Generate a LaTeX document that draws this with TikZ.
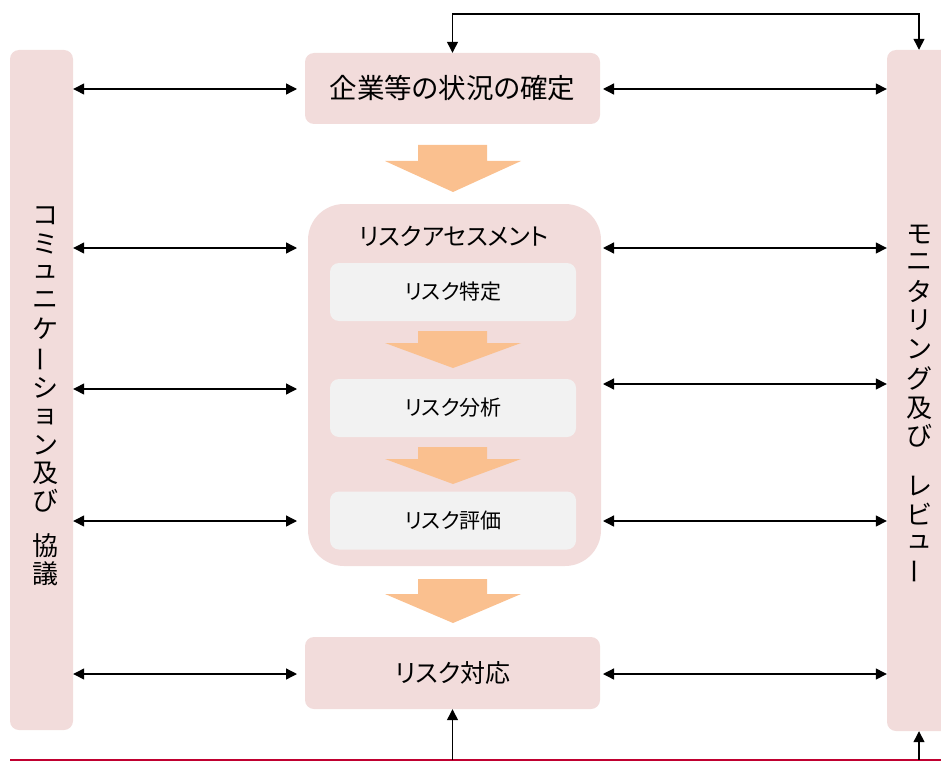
\documentclass[tikz,border=0pt]{standalone}
\usepackage{fontspec}
\usepackage{graphicx}
\setmainfont{Noto Sans CJK JP}[RawFeature=+palt]
\newfontfamily\vfont{Noto Sans CJK JP}
\usetikzlibrary{arrows.meta}
\definecolor{boxpink}{RGB}{242,220,219}
\definecolor{innergrey}{RGB}{242,242,242}
\definecolor{arroworange}{RGB}{250,192,143}
\definecolor{redline}{RGB}{192,0,48}
\tikzset{
  pinkbox/.style={fill=boxpink, draw=none, rounded corners=9pt, inner sep=0pt},
  greybox/.style={fill=innergrey, draw=none, rounded corners=9pt, inner sep=0pt,
     minimum width=246pt, minimum height=58pt, font=\fontsize{21}{24}\selectfont},
  dbl/.style={line width=1.3pt, {Triangle[length=11pt,width=11pt]}-{Triangle[length=11pt,width=11pt]}},
  uparr/.style={line width=1.3pt, -{Triangle[length=11pt,width=11pt]}},
  vtext/.style={font=\vfont\fontsize{26}{28}\selectfont, inner sep=0pt},
  orangefill/.style={fill=arroworange, draw=none}
}
\newcommand{\oarrow}[3]{%
  \fill[orangefill] (418,#1) -- (487,#1) -- (487,#2) -- (521,#2) -- (453,#3) -- (385,#2) -- (418,#2) -- cycle;}
\begin{document}
\begin{tikzpicture}[x=1pt,y=-1pt]
\useasboundingbox (0,0) rectangle (941,762);
% side boxes
\node[pinkbox, minimum width=63pt, minimum height=680pt] (lb) at (41.5,390) {};
\node[pinkbox, minimum width=64pt, minimum height=681pt] (rb) at (919,390.5) {};
% main boxes
\node[pinkbox, minimum width=295pt, minimum height=71pt, font=\fontsize{27.5}{30}\selectfont] (ctx) at (452.5,88.5) {企業等の状況の確定};
\node[pinkbox, rounded corners=36pt, minimum width=293pt, minimum height=362pt] (ra) at (454.5,385) {};
\node[inner sep=0pt, font=\fontsize{24}{27}\selectfont] (ratitle) at (454,236) {リスクアセスメント};
\node[greybox] (id) at (453,292) {リスク特定};
\node[greybox] (an) at (453,408) {リスク分析};
\node[greybox] (ev) at (453,520.5) {リスク評価};
\node[pinkbox, minimum width=295pt, minimum height=72pt, font=\fontsize{25}{28}\selectfont] (resp) at (452.5,673) {リスク対応};
% orange arrows
\oarrow{145}{161}{192}
\oarrow{331}{343}{368}
\oarrow{447}{459}{484}
\oarrow{579}{594}{623}
% vertical texts
\foreach \c/\y [count=\i] in {コ/216, ミ/244, ュ/272, ニ/300, ケ/329, {\rotatebox[origin=c]{90}{ー}}/359, シ/388, ョ/417, ン/445, 及/473, び/501, 協/546, 議/574}
  \node[vtext] (lt\i) at (45,\y) {\c};
\foreach \c/\y [count=\i] in {モ/234, ニ/262, タ/291, リ/320, ン/349, グ/378, 及/408, び/436, レ/486, ビ/514, ュ/542, {\rotatebox[origin=c]{90}{ー}}/571}
  \node[vtext] (rt\i) at (919,\y) {\c};
% horizontal double arrows
\foreach \y in {89,248,389,521,674}
  \draw[dbl] (lb.east |- 0,\y) -- (297,\y);
\foreach \y in {89,248,384,521,674}
  \draw[dbl] (603,\y) -- (rb.west |- 0,\y);
% top connector
\coordinate (topy) at (0,14);
\draw[dbl] (ctx.north) -- (ctx.north |- topy) -- (rb.north |- topy) -- (rb.north);
% bottom line
\coordinate (boty) at (0,760);
\draw[redline, line width=2pt] (10,760) -- (941,760);
\draw[uparr] (resp.south |- boty) -- (resp.south);
\draw[uparr] (rb.south |- boty) -- (rb.south);
\end{tikzpicture}
\end{document}
